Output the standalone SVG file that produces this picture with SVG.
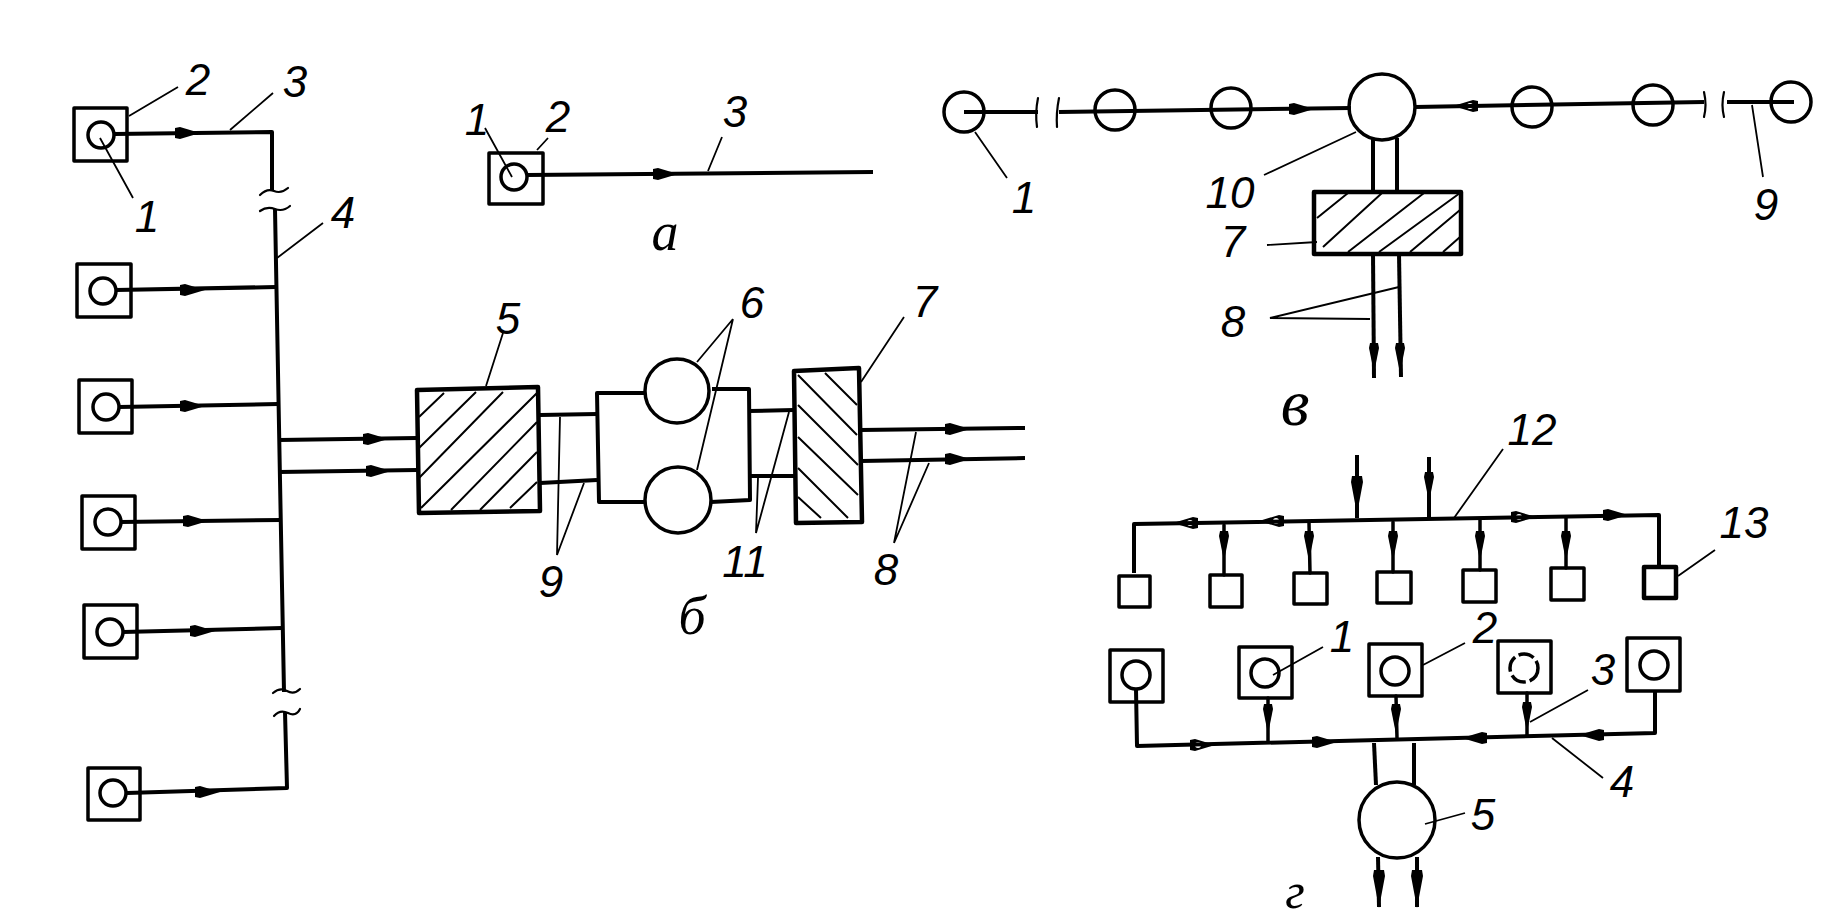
<svg xmlns="http://www.w3.org/2000/svg" width="1840" height="922" viewBox="0 0 1840 922">
<style>
.n{fill:none;stroke:#000;stroke-width:3.5;stroke-linejoin:round}
.b{fill:none;stroke:#000;stroke-width:4.5;stroke-linejoin:round}
.o{fill:none;stroke:#000;stroke-width:3.5}
.p{fill:none;stroke:#000;stroke-width:3.5;stroke-linejoin:round;stroke-linecap:round}
.m{fill:none;stroke:#000;stroke-width:4;stroke-linejoin:round}
.l{fill:none;stroke:#000;stroke-width:1.8}
.h{fill:none;stroke:#000;stroke-width:2}
.k{fill:none;stroke:#000;stroke-width:2.2;stroke-linecap:round}
text{font-family:"Liberation Sans Narrow","Liberation Sans",Arial,sans-serif;font-style:italic;font-size:44px;fill:#000;text-anchor:middle}
text.s{font-family:"Liberation Serif","Times New Roman",serif;font-size:54px}
text.t{font-size:66px}
text.u{font-size:50px}
</style>
<defs>
<path id="ah" d="M0,-5L5,-6L25,0L5,6L0,5Z" fill="#000"/>
<path id="aw" fill-rule="evenodd" d="M0,-5L5,-6L25,0L5,6L0,5ZM5,0a3,3 0 1 0 6,0a3,3 0 1 0 -6,0Z" fill="#000"/>
<path id="av" d="M-4,0L-5,5L0,30L5,5L4,0Z" fill="#000"/>
<path id="al" d="M-5,0L-6,6L0,38L6,6L5,0Z" fill="#000"/>
</defs>
<rect width="1840" height="922" fill="#fff"/>

<g id="connectors">
<path class="m" d="M114,134L272,132L272,190"/>
<path class="k" d="M260,195q7,-7 14,-4t14,-3"/>
<path class="k" d="M260,211q7,-5 15,-2t15,-3"/>
<path class="m" d="M275,209L280,480L284,692"/>
<path class="k" d="M273,693q7,-6 14,-2t13,-2"/>
<path class="k" d="M274,716q6,-7 14,-3t12,-4"/>
<path class="m" d="M285,712L287,788L127,793"/>
<path class="m" d="M116,290L276,287"/>
<path class="m" d="M119,407L278,404"/>
<path class="m" d="M121,522L281,520"/>
<path class="m" d="M123,632L282,628"/>
<path class="m" d="M279,440L417,438"/>
<path class="m" d="M279,472L417,470"/>
<use href="#ah" x="175" y="133"/>
<use href="#ah" x="180" y="290"/>
<use href="#ah" x="180" y="406"/>
<use href="#ah" x="183" y="521"/>
<use href="#ah" x="190" y="631"/>
<use href="#ah" x="195" y="792"/>
<use href="#ah" x="363" y="439"/>
<use href="#ah" x="366" y="471"/>
<path class="m" d="M527,175L873,172"/>
<use href="#ah" x="653" y="174"/>
<path class="m" d="M540,415L597,414"/>
<path class="m" d="M540,483L597,480"/>
<path class="m" d="M644,393L597,393L599,502L646,502"/>
<path class="m" d="M712,389L749,389L750,500L711,502"/>
<path class="m" d="M749,411L794,410"/>
<path class="m" d="M750,476L795,476"/>
<path class="m" d="M861,430L1025,428"/>
<path class="m" d="M861,461L1025,458"/>
<use href="#ah" x="945" y="429"/>
<use href="#ah" x="945" y="459"/>
<path class="m" d="M964,112L1038,112"/>
<path class="k" d="M1038,98q-3,15 -1,29"/>
<path class="k" d="M1059,98q-3,15 -2,29"/>
<path class="m" d="M1059,112L1351,108"/>
<path class="m" d="M1415,107L1704,102"/>
<path class="k" d="M1704,92q3,13 0,25"/>
<path class="k" d="M1724,92q-3,13 0,25"/>
<path class="m" d="M1727,102L1794,102"/>
<use href="#ah" x="1289" y="109"/>
<use href="#aw" transform="translate(1478,106) rotate(180)"/>
<path class="m" d="M1373,138L1373,192"/>
<path class="m" d="M1397,138L1397,192"/>
<path class="m" d="M1373,254L1374,378"/>
<path class="m" d="M1399,254L1401,377"/>
<use href="#av" x="1374" y="343"/>
<use href="#av" x="1400" y="343"/>
<path class="m" d="M1134,573L1134,524L1659,515L1659,567"/>
<path class="m" d="M1357,455L1357,518"/>
<path class="m" d="M1429,457L1429,517"/>
<use href="#al" x="1357" y="476"/>
<use href="#av" x="1429" y="472"/>
<use href="#aw" transform="translate(1198,523) rotate(180)"/>
<use href="#aw" transform="translate(1284,521) rotate(180)"/>
<use href="#aw" x="1511" y="517"/>
<use href="#ah" x="1603" y="515"/>
<path class="p" d="M1224,525L1224,575"/>
<path class="p" d="M1309,523L1310,573"/>
<path class="p" d="M1393,522L1393,572"/>
<path class="p" d="M1480,520L1480,570"/>
<path class="p" d="M1566,518L1566,568"/>
<use href="#av" x="1224" y="531"/>
<use href="#av" x="1309" y="531"/>
<use href="#av" x="1393" y="531"/>
<use href="#av" x="1480" y="531"/>
<use href="#av" x="1566" y="531"/>
<path class="m" d="M1136,689L1137,746L1655,733L1655,691"/>
<path class="p" d="M1268,698L1268,742"/>
<path class="p" d="M1396,696L1397,738"/>
<path class="p" d="M1527,693L1527,735"/>
<use href="#av" x="1268" y="704"/>
<use href="#av" x="1396" y="704"/>
<use href="#av" x="1527" y="702"/>
<use href="#aw" x="1190" y="745"/>
<use href="#ah" x="1312" y="742"/>
<use href="#ah" transform="translate(1487,738) rotate(180)"/>
<use href="#ah" transform="translate(1604,735) rotate(180)"/>
<path class="m" d="M1374,743L1376,785"/>
<path class="m" d="M1414,743L1414,785"/>
<path class="m" d="M1378,857L1379,907"/>
<path class="m" d="M1417,857L1417,907"/>
<use href="#al" x="1379" y="870"/>
<use href="#al" x="1417" y="870"/>
<g id="leaders">
<path class="l" d="M129,116L178,87M230,130L273,93M100,138L133,198M277,258L323,223"/>
<path class="l" d="M485,128L512,177M548,138L537,150M722,137L708,171"/>
<path class="l" d="M486,386L503,333M697,362L733,319M697,470L733,319M861,382L904,317"/>
<path class="l" d="M560,417L557,555L584,483M758,478L756,533L789,412M916,432L894,543L929,463"/>
<path class="l" d="M975,132L1007,178M1356,132L1264,175M1317,242L1267,245M1399,287L1270,318L1370,319M1752,105L1763,177"/>
<path class="l" d="M1454,518L1503,449M1678,576L1715,550M1273,675L1323,647M1423,665L1465,643M1530,722L1588,690M1552,738L1603,778M1425,824L1465,813"/>
</g>
</g>

<g id="source-l1"><rect class="n" x="74" y="108" width="53" height="53"/><circle class="o" cx="101" cy="135" r="13"/></g>
<g id="source-l2"><rect class="n" x="77" y="264" width="54" height="53"/><circle class="o" cx="103" cy="291" r="13"/></g>
<g id="source-l3"><rect class="n" x="79" y="380" width="53" height="53"/><circle class="o" cx="106" cy="407" r="13"/></g>
<g id="source-l4"><rect class="n" x="82" y="496" width="53" height="53"/><circle class="o" cx="108" cy="522" r="13"/></g>
<g id="source-l5"><rect class="n" x="84" y="605" width="53" height="53"/><circle class="o" cx="110" cy="632" r="13"/></g>
<g id="source-l6"><rect class="n" x="88" y="768" width="52" height="52"/><circle class="o" cx="113" cy="793" r="13"/></g>

<g id="source-a"><rect class="n" x="489" y="153" width="54" height="51"/><circle class="o" cx="514" cy="177" r="13"/></g>

<g id="block-5">
<path class="b" d="M417,390L538,387L540,511L419,513Z"/>
<path class="h" d="M419,417L444,393M419,448L476,392M419,478L503,392M421,508L537,393M451,510L537,422M480,510L537,452M510,508L537,482"/>
</g>
<g id="unit-6a"><circle class="o" cx="677" cy="391" r="32"/></g>
<g id="unit-6b"><circle class="o" cx="678" cy="500" r="33"/></g>
<g id="block-7">
<path class="b" d="M794,371L859,368L862,522L796,523Z"/>
<path class="h" d="M825,373L857,405M798,375L857,435M798,405L858,465M798,437L858,495M798,468L848,518M798,497L821,518"/>
</g>

<g id="well-v1"><circle class="o" cx="964" cy="112" r="20"/></g>
<g id="well-v2"><circle class="o" cx="1115" cy="110" r="20"/></g>
<g id="well-v3"><circle class="o" cx="1231" cy="108" r="20"/></g>
<g id="collector-10"><circle class="o" cx="1382" cy="107" r="33"/></g>
<g id="well-v4"><circle class="o" cx="1532" cy="107" r="20"/></g>
<g id="well-v5"><circle class="o" cx="1653" cy="105" r="20"/></g>
<g id="well-v6"><circle class="o" cx="1791" cy="102" r="20"/></g>
<g id="block-v7">
<rect class="b" x="1314" y="192" width="147" height="62"/>
<path class="h" d="M1317,218L1348,193M1323,247L1382,193M1348,252L1424,193M1379,252L1460,193M1410,252L1460,210M1443,252L1460,237"/>
</g>

<g id="user-1"><rect class="n" x="1119" y="576" width="31" height="31"/></g>
<g id="user-2"><rect class="n" x="1210" y="575" width="32" height="32"/></g>
<g id="user-3"><rect class="n" x="1294" y="573" width="33" height="31"/></g>
<g id="user-4"><rect class="n" x="1377" y="572" width="34" height="31"/></g>
<g id="user-5"><rect class="n" x="1463" y="570" width="33" height="32"/></g>
<g id="user-6"><rect class="n" x="1551" y="568" width="33" height="32"/></g>
<g id="user-7"><rect class="b" x="1644" y="567" width="32" height="31"/></g>

<g id="source-g1"><rect class="n" x="1110" y="650" width="53" height="52"/><circle class="o" cx="1136" cy="675" r="14"/></g>
<g id="source-g2"><rect class="n" x="1239" y="647" width="53" height="51"/><circle class="o" cx="1265" cy="673" r="14"/></g>
<g id="source-g3"><rect class="n" x="1369" y="644" width="53" height="52"/><circle class="o" cx="1395" cy="671" r="14"/></g>
<g id="source-g4"><rect class="n" x="1498" y="641" width="53" height="52"/><circle class="o" cx="1524" cy="668" r="14" stroke-dasharray="16 4"/></g>
<g id="source-g5"><rect class="n" x="1627" y="638" width="53" height="53"/><circle class="o" cx="1654" cy="665" r="14"/></g>
<g id="collector-5"><circle class="o" cx="1397" cy="820" r="38"/></g>

<g id="labels">
<text x="198" y="95">2</text>
<text x="295" y="97">3</text>
<text x="147" y="232">1</text>
<text x="343" y="228">4</text>
<text x="477" y="135">1</text>
<text x="558" y="132">2</text>
<text x="735" y="127">3</text>
<text class="s" x="665" y="250">а</text>
<text x="508" y="334">5</text>
<text x="752" y="318">6</text>
<text x="925" y="317">7</text>
<text x="551" y="597">9</text>
<text x="745" y="577">11</text>
<text x="886" y="585">8</text>
<text class="s" x="692" y="634">б</text>
<text x="1024" y="213">1</text>
<text x="1230" y="208">10</text>
<text x="1233" y="257">7</text>
<text x="1233" y="337">8</text>
<text x="1766" y="220">9</text>
<text class="s t" x="1295" y="425">в</text>
<text x="1532" y="445">12</text>
<text x="1744" y="538">13</text>
<text x="1342" y="652">1</text>
<text x="1485" y="643">2</text>
<text x="1603" y="685">3</text>
<text x="1622" y="797">4</text>
<text x="1483" y="830">5</text>
<text class="s u" x="1295" y="908">г</text>
</g>
</svg>
